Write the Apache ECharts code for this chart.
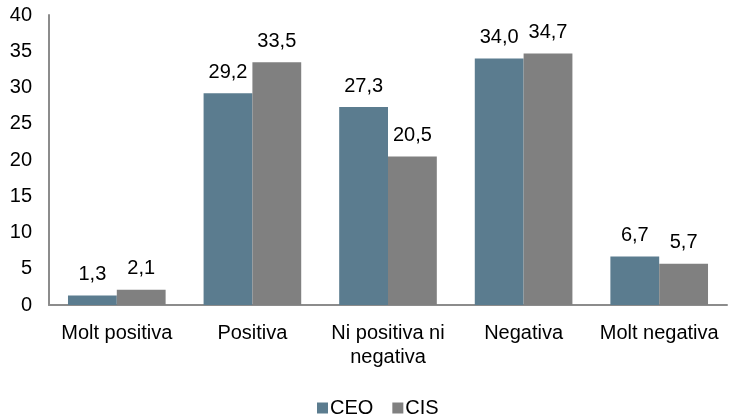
<!DOCTYPE html>
<html><head><meta charset="utf-8">
<script src="https://cdn.jsdelivr.net/npm/echarts@6/dist/echarts.min.js"></script>
<style>html,body{margin:0;padding:0;background:#fff}#c{width:729px;height:417px}</style>
</head><body><div id="c"></div>
<script>
const categories = ['Molt positiva', 'Positiva', 'Ni positiva ni\nnegativa', 'Negativa', 'Molt negativa'];
const ceo = [1.3, 29.2, 27.3, 34.0, 6.7];
const cis = [2.1, 33.5, 20.5, 34.7, 5.7];
const yTicks = [0, 5, 10, 15, 20, 25, 30, 35, 40];

const font = 'Liberation Sans, Arial, sans-serif';
const fmt = p => p.value.toFixed(1).replace('.', ',');
const chart = echarts.init(document.getElementById('c'));
chart.setOption({
  animation: false,
  grid: { left: 49, right: 2, top: 15, bottom: 112, containLabel: false },
  legend: {
    top: 393, left: 312, itemWidth: 11, itemHeight: 11, itemGap: 19,
    icon: 'rect',
    textStyle: { fontFamily: font, fontSize: 20, color: '#000', padding: [0,0,0,-3] },
    data: ['CEO', 'CIS']
  },
  xAxis: {
    type: 'category', data: categories,
    axisLine: { lineStyle: { color: '#8c8c8c', width: 2 } },
    axisTick: { show: false },
    axisLabel: { fontFamily: font, fontSize: 20, color: '#000', margin: 16, lineHeight: 24, interval: 0 }
  },
  yAxis: {
    type: 'value', min: yTicks[0], max: yTicks[yTicks.length - 1], interval: 5,
    axisLine: { show: true, lineStyle: { color: '#8c8c8c', width: 2 } },
    axisTick: { show: false },
    splitLine: { show: false },
    axisLabel: { fontFamily: font, fontSize: 20, color: '#000', margin: 17 }
  },
  series: [
    { name: 'CEO', type: 'bar', data: ceo, barGap: '0%', barCategoryGap: '28%',
      itemStyle: { color: '#5b7c8f' },
      label: { show: true, position: 'top', distance: 11, formatter: fmt, fontFamily: font, fontSize: 20, color: '#000' } },
    { name: 'CIS', type: 'bar', data: cis, barGap: '0%', barCategoryGap: '28%',
      itemStyle: { color: '#808080' },
      label: { show: true, position: 'top', distance: 11, formatter: fmt, fontFamily: font, fontSize: 20, color: '#000' } }
  ]
});
</script></body></html>
